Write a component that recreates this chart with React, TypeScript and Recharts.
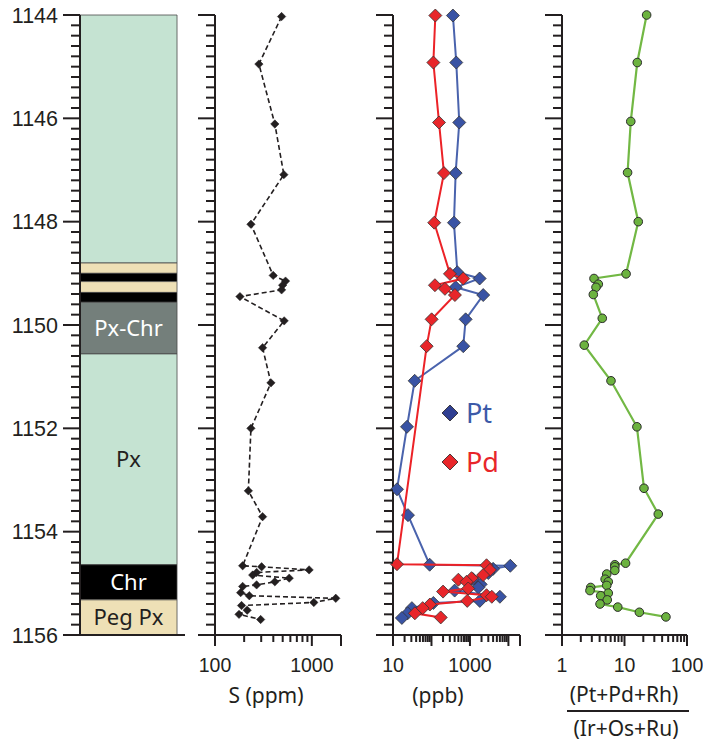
import React from "react";
import { ScatterChart, Scatter, XAxis, YAxis, ReferenceArea, Legend } from "recharts";

const INK = "#231f20";
const NUM_FONT = "'Liberation Sans', Arial, sans-serif";
const TEXT_FONT = "'Noto Sans', 'Open Sans', sans-serif";

// depth axis (m), minor ticks every 0.2 m
const depthMajor = [1144, 1146, 1148, 1150, 1152, 1154, 1156];
const depthTicks: number[] = [];
for (let i = 0; i <= 60; i++) depthTicks.push(Math.round((1144 + i * 0.2) * 10) / 10);

// lithology column
const layerNames = ["", "", "", "", "", "Px-Chr", "Px", "Chr", "Peg Px"];
const layerTops = [1144, 1148.8, 1149.0, 1149.16, 1149.37, 1149.56, 1150.56, 1154.64, 1155.32];
const layerBases = [1148.8, 1149.0, 1149.16, 1149.37, 1149.56, 1150.56, 1154.64, 1155.32, 1156];
const layerFills = ["#c5e3d2", "#eee0b6", "#000000", "#eee0b6", "#000000", "#747f7b", "#c5e3d2", "#000000", "#eee0b6"];
const layerText = ["", "", "", "", "", "#ffffff", INK, "#ffffff", INK];

// S (ppm)
const sDepth = [1144.03, 1144.95, 1146.11, 1147.09, 1148.05, 1149.04, 1149.15, 1149.23, 1149.32, 1149.45, 1149.92, 1150.44, 1151.12, 1152.0, 1153.21, 1153.71, 1154.66, 1154.68, 1154.74, 1154.79, 1154.84, 1154.9, 1154.97, 1155.03, 1155.06, 1155.18, 1155.24, 1155.29, 1155.37, 1155.43, 1155.52, 1155.6, 1155.7];
const sValue = [487, 284, 415, 514, 235, 399, 535, 499, 487, 181, 518, 310, 378, 235, 221, 310, 193, 303, 937, 269, 245, 584, 415, 269, 193, 184, 226, 1766, 1048, 188, 215, 177, 296];

// Pt (ppb)
const ptDepth = [1144.01, 1144.92, 1146.08, 1147.06, 1148.02, 1148.98, 1149.1, 1149.27, 1149.42, 1149.89, 1150.41, 1151.08, 1151.97, 1153.18, 1153.68, 1154.64, 1154.66, 1154.72, 1154.8, 1154.92, 1155.02, 1155.08, 1155.14, 1155.26, 1155.34, 1155.38, 1155.48, 1155.58, 1155.67];
const ptValue = [361, 441, 528, 425, 384, 470, 1786, 425, 2213, 773, 670, 36.6, 23.1, 12.7, 24.5, 89.8, 11200, 4000, 3000, 1200, 1900, 1650, 400, 6000, 1800, 112, 31, 24, 17];

// Pd (ppb)
const pdDepth = [1144.01, 1144.92, 1146.08, 1147.06, 1148.02, 1149.01, 1149.1, 1149.23, 1149.3, 1149.42, 1149.89, 1150.41, 1154.63, 1154.65, 1154.74, 1154.84, 1154.9, 1154.93, 1154.97, 1155.1, 1155.16, 1155.23, 1155.26, 1155.34, 1155.41, 1155.48, 1155.58, 1155.66];
const pdValue = [126, 112, 157, 211, 118, 302, 670, 123, 224, 407, 101, 75, 12.7, 2700, 3300, 2200, 1100, 500, 815, 900, 200, 2700, 3700, 850, 91, 59, 37, 174];

// (Pt+Pd+Rh)/(Ir+Os+Ru)
const ratioDepth = [1144.0, 1144.92, 1146.06, 1147.05, 1148.0, 1149.01, 1149.1, 1149.21, 1149.27, 1149.41, 1149.87, 1150.39, 1151.08, 1151.97, 1153.16, 1153.66, 1154.61, 1154.64, 1154.68, 1154.75, 1154.82, 1154.92, 1154.97, 1155.04, 1155.08, 1155.14, 1155.19, 1155.24, 1155.32, 1155.4, 1155.46, 1155.56, 1155.65];
const ratioValue = [22.6, 16.0, 12.6, 11.2, 16.6, 10.6, 3.25, 3.81, 3.5, 3.17, 4.41, 2.27, 6.08, 15.8, 20.5, 34.7, 10.4, 7.0, 7.0, 7.0, 5.2, 4.9, 5.5, 5.2, 2.88, 2.8, 5.5, 4.16, 5.3, 4.06, 7.8, 17.3, 46];

// log axis ticks
const sTicks = [100, 200, 300, 400, 500, 600, 700, 800, 900, 1000, 2000];
const sLabels = [100, 1000];
const ppbTicks = [10, 20, 30, 40, 50, 60, 70, 80, 90, 100, 200, 300, 400, 500, 600, 700, 800, 900, 1000, 2000, 3000, 4000, 5000, 6000, 7000, 8000, 9000, 10000, 20000];
const ppbLabels = [10, 1000];
const ratioTicks = [1, 2, 3, 4, 5, 6, 7, 8, 9, 10, 20, 30, 40, 50, 60, 70, 80, 90, 100];
const ratioLabels = [1, 10, 100];

const seriesOrder = ["Pt", "Pd"];
const seriesFill: Record<string, string> = { Pt: "#2f3f92", Pd: "#e8262a" };
const seriesText: Record<string, string> = { Pt: "#3c5aa8", Pd: "#e8262a" };

const zip = (depth: number[], value: number[]) => depth.map((d, i) => ({ depth: d, value: value[i] }));
const sData = zip(sDepth, sValue);
const ptData = zip(ptDepth, ptValue);
const pdData = zip(pdDepth, pdValue);
const ratioData = zip(ratioDepth, ratioValue);
// anchors so the lithology chart has a data domain
const layerData = layerTops.concat([1156]).map((d) => ({ x: 0, depth: d }));

const CHART_H = 743;
const MARGIN_TOP = 15;
const MARGIN_BOTTOM = 78;
const X_AXIS_H = 30;
const axisLine = { stroke: INK, strokeWidth: 2 };

function DepthTick(props: any) {
  const { x, y, payload, withLabel } = props;
  const v = payload.value;
  const major = depthMajor.includes(v);
  return (
    <g>
      <line x1={x - (major ? 17 : 9)} x2={x} y1={y} y2={y} stroke={INK} strokeWidth={2} />
      {withLabel && major && (
        <text x={x - 22} y={y} dy="0.36em" textAnchor="end" fontFamily={NUM_FONT} fontSize={21.5} fill={INK}>
          {v}
        </text>
      )}
    </g>
  );
}

function LogTick(props: any) {
  const { x, y, payload, labels, last } = props;
  const v = payload.value;
  const lg = Math.log10(v);
  const major = Math.abs(lg - Math.round(lg)) < 1e-9 || v === last;
  return (
    <g>
      <line x1={x} x2={x} y1={y} y2={y + (major ? 11 : 7)} stroke={INK} strokeWidth={2} />
      {labels.includes(v) && (
        <text x={x} y={y + 30} dy="0.36em" textAnchor="middle" fontFamily={NUM_FONT} fontSize={19.5} fill={INK}>
          {v}
        </text>
      )}
    </g>
  );
}

const diamond = (fill: string, r: number, stroke: string, sw: number) => (p: any) => (
  <path
    d={`M${p.cx} ${p.cy - r} L${p.cx + r} ${p.cy} L${p.cx} ${p.cy + r} L${p.cx - r} ${p.cy} Z`}
    fill={fill}
    stroke={stroke}
    strokeWidth={sw}
  />
);

const dot = (p: any) => <circle cx={p.cx} cy={p.cy} r={4.3} fill="#6cb33f" stroke="#2b2b2b" strokeWidth={1} />;

const PpbLegend = ({ payload }: any) => {
  const names = (payload || []).map((e: any) => e.value);
  return (
    <div>
      {seriesOrder
        .filter((n) => names.includes(n))
        .map((n) => (
          <div key={n} style={{ display: "flex", alignItems: "center", height: 49 }}>
            <svg width={18} height={18}>
              <path d="M9 1 L17 9 L9 17 L1 9 Z" fill={seriesFill[n]} stroke={INK} strokeWidth={0.8} />
            </svg>
            <span style={{ color: seriesText[n], fontFamily: TEXT_FONT, fontSize: 27, marginLeft: 7, lineHeight: 1 }}>
              {n}
            </span>
          </div>
        ))}
    </div>
  );
};

interface PanelProps {
  left: number;
  width: number;
  yWidth: number;
  marginLeft: number;
  marginRight: number;
  domain: [number, number];
  ticks: number[];
  labels: number[];
  children: React.ReactNode;
}

const LogPanel = ({ left, width, yWidth, marginLeft, marginRight, domain, ticks, labels, children }: PanelProps) => (
  <div style={{ position: "absolute", left, top: 0 }}>
    <ScatterChart
      width={width}
      height={CHART_H}
      margin={{ top: MARGIN_TOP, bottom: MARGIN_BOTTOM, left: marginLeft, right: marginRight }}
    >
      <XAxis
        type="number"
        dataKey="value"
        scale="log"
        domain={domain}
        ticks={ticks}
        interval={0}
        height={X_AXIS_H}
        tickSize={0}
        tickMargin={0}
        tickLine={false}
        axisLine={axisLine}
        tick={(p: any) => <LogTick {...p} labels={labels} last={domain[1]} />}
      />
      <YAxis
        type="number"
        dataKey="depth"
        domain={[1144, 1156]}
        reversed
        ticks={depthTicks}
        interval={0}
        width={yWidth}
        tickSize={0}
        tickMargin={0}
        tickLine={false}
        axisLine={axisLine}
        tick={(p: any) => <DepthTick {...p} />}
      />
      {children}
    </ScatterChart>
  </div>
);

const title: React.CSSProperties = {
  position: "absolute",
  transform: "translate(-50%, -50%)",
  whiteSpace: "nowrap",
  fontFamily: TEXT_FONT,
  fontSize: 21,
  lineHeight: 1,
  color: INK,
};

export default function App() {
  return (
    <div style={{ position: "absolute", left: 0, top: 0, width: 703, height: 743, background: "#fff" }}>
      {/* lithology column with depth labels */}
      <div style={{ position: "absolute", left: 0, top: 0 }}>
        <ScatterChart width={190} height={CHART_H} margin={{ top: MARGIN_TOP, bottom: MARGIN_BOTTOM, left: 10, right: 5 }}>
          <XAxis type="number" dataKey="x" domain={[0, 1]} height={X_AXIS_H} tick={false} tickLine={false} axisLine={axisLine} />
          <YAxis
            type="number"
            dataKey="depth"
            domain={[1144, 1156]}
            reversed
            ticks={depthTicks}
            interval={0}
            width={70}
            tickSize={0}
            tickMargin={0}
            tickLine={false}
            axisLine={axisLine}
            tick={(p: any) => <DepthTick {...p} withLabel />}
          />
          {layerNames.map((name, i) => (
            <ReferenceArea
              key={i}
              x1={0}
              x2={0.924}
              y1={layerTops[i]}
              y2={layerBases[i]}
              fill={layerFills[i]}
              fillOpacity={1}
              stroke="#4a4a4a"
              strokeWidth={0.8}
              label={name ? { value: name, position: "center", fill: layerText[i], fontSize: 22, fontFamily: TEXT_FONT } : undefined}
            />
          ))}
          <Scatter data={layerData} isAnimationActive={false} fill="none" shape={() => <g />} />
        </ScatterChart>
      </div>

      {/* sulfur */}
      <LogPanel left={190} width={165} yWidth={20} marginLeft={5} marginRight={14} domain={[100, 2000]} ticks={sTicks} labels={sLabels}>
        <Scatter
          data={sData}
          isAnimationActive={false}
          fill={INK}
          line={{ stroke: INK, strokeWidth: 1.6, strokeDasharray: "5 3" }}
          lineType="joint"
          shape={diamond(INK, 4.2, INK, 0.5)}
        />
      </LogPanel>

      {/* Pt and Pd */}
      <LogPanel left={375} width={150} yWidth={18} marginLeft={0} marginRight={5} domain={[10, 20000]} ticks={ppbTicks} labels={ppbLabels}>
        <Scatter
          name="Pt"
          data={ptData}
          isAnimationActive={false}
          fill="#3953a4"
          line={{ stroke: "#4a63ad", strokeWidth: 2 }}
          lineType="joint"
          shape={diamond("#3953a4", 6.5, "#333333", 0.8)}
        />
        <Scatter
          name="Pd"
          data={pdData}
          isAnimationActive={false}
          fill="#e8262a"
          line={{ stroke: "#ec2227", strokeWidth: 2 }}
          lineType="joint"
          shape={diamond("#e8262a", 6.5, "#333333", 0.8)}
        />
        <Legend
          layout="vertical"
          align="center"
          verticalAlign="middle"
          content={<PpbLegend />}
          wrapperStyle={{ left: 66, top: 388, width: 80 }}
        />
      </LogPanel>

      {/* PPGE / IPGE ratio */}
      <LogPanel left={545} width={158} yWidth={17} marginLeft={0} marginRight={16} domain={[1, 100]} ticks={ratioTicks} labels={ratioLabels}>
        <Scatter
          data={ratioData}
          isAnimationActive={false}
          fill="#6cb33f"
          line={{ stroke: "#72b844", strokeWidth: 2.2 }}
          lineType="joint"
          shape={dot}
        />
      </LogPanel>

      <div style={{ ...title, left: 266, top: 695 }}>S (ppm)</div>
      <div style={{ ...title, left: 438, top: 695 }}>(ppb)</div>
      <div style={{ ...title, left: 624, top: 694 }}>(Pt+Pd+Rh)</div>
      <div style={{ position: "absolute", left: 567, top: 710, width: 122, height: 2, background: INK }} />
      <div style={{ ...title, left: 626, top: 728 }}>(Ir+Os+Ru)</div>
    </div>
  );
}
